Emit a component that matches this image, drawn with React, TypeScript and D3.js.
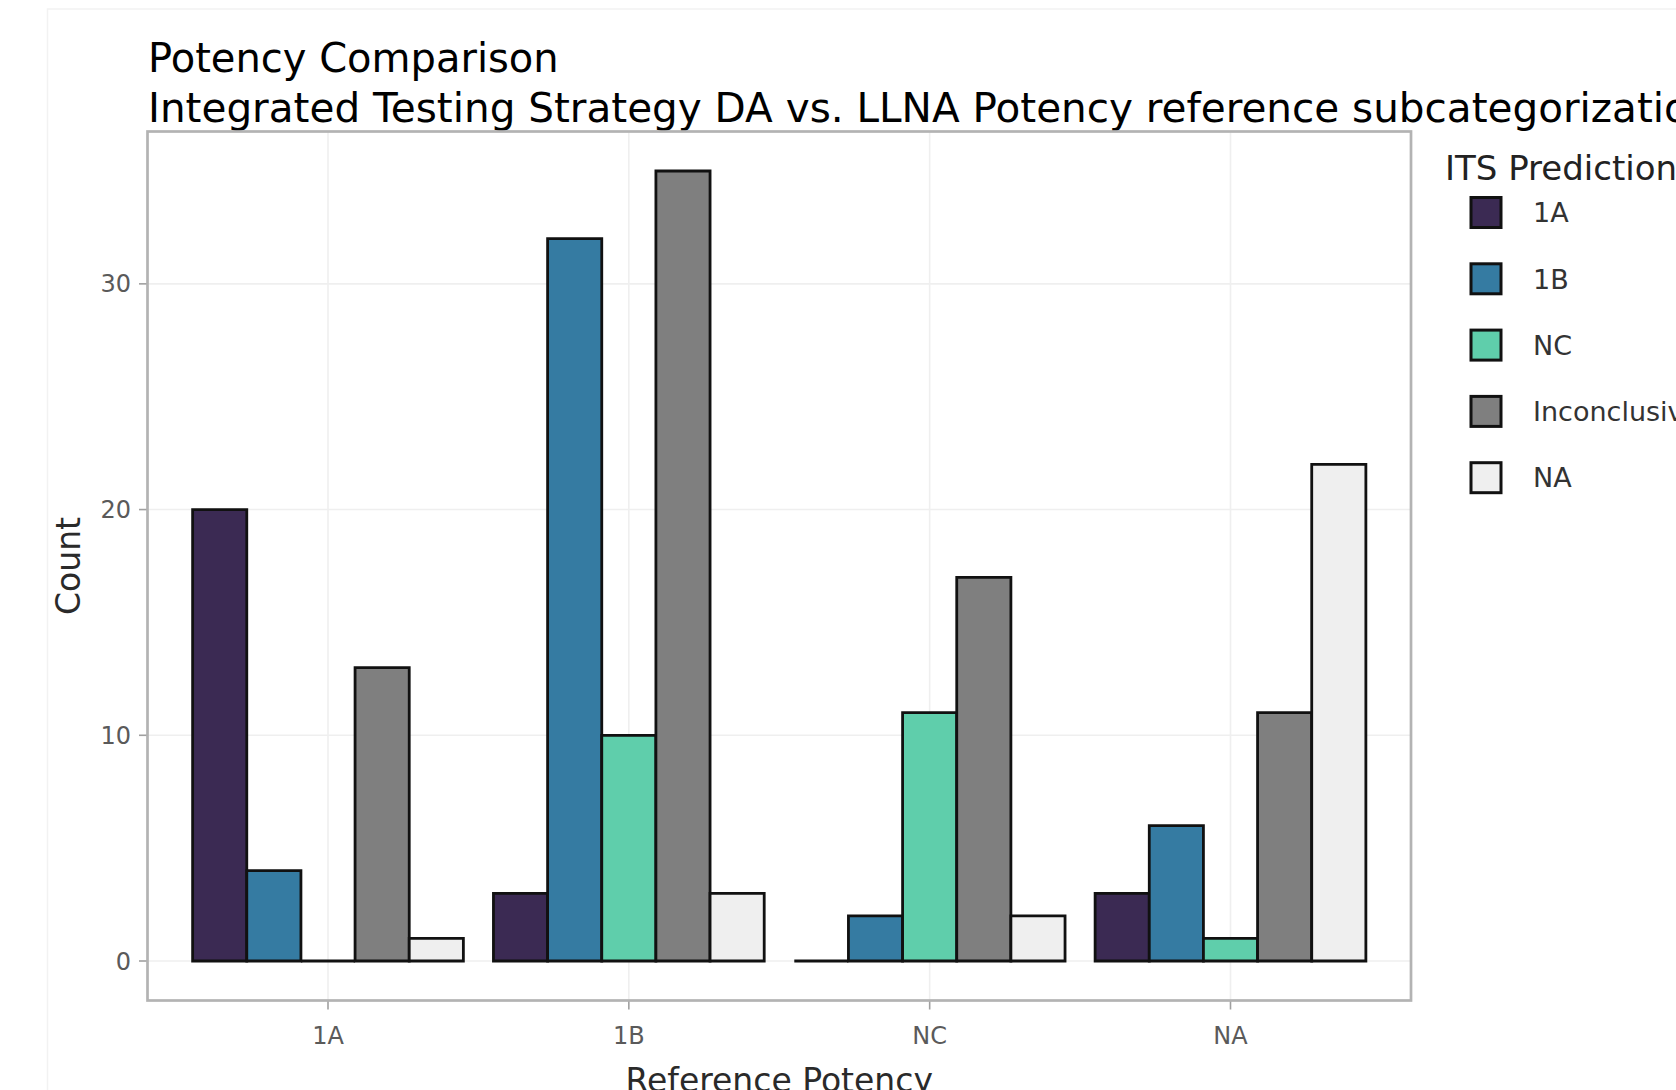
import React from "react";
import * as d3 from "d3";

const categories = ["1A", "1B", "NC", "NA"];
const series = ["1A", "1B", "NC", "Inconclusive", "NA"];
const colors = ["#3B2A53", "#357BA2", "#5FCEAB", "#7F7F7F", "#EFEFEF"];
// values[seriesIndex][categoryIndex]
const s1A = [20, 3, 0, 3];
const s1B = [4, 32, 2, 6];
const sNC = [0, 10, 11, 1];
const sInc = [13, 35, 17, 11];
const sNA = [1, 3, 2, 22];
const yTicks = [0, 10, 20, 30];

const values = [s1A, s1B, sNC, sInc, sNA];

const W = 1676;
const H = 1090;
const P = { left: 147.5, right: 1411, top: 131.5, bottom: 1000.5 };
const FONT = "'DejaVu Sans', Verdana, sans-serif";

export default function App() {
  const x = d3
    .scaleBand<string>()
    .domain(categories)
    .range([P.left, P.right])
    .paddingInner(0.1)
    .paddingOuter(0.15);
  const xs = d3.scaleBand<string>().domain(series).range([0, x.bandwidth()]);
  const y = d3.scaleLinear().domain([-1.75, 36.75]).range([P.bottom, P.top]);

  const bars: { key: string; d: string; fill: string }[] = [];
  categories.forEach((c, ci) => {
    series.forEach((s, si) => {
      const v = values[si][ci];
      const x0 = (x(c) as number) + (xs(s) as number);
      const w = xs.bandwidth();
      const y0 = y(0);
      const y1 = y(v);
      bars.push({
        key: c + "-" + s,
        d: `M${x0},${y0}H${x0 + w}V${y1}H${x0}Z`,
        fill: colors[si],
      });
    });
  });

  const cx = (c: string) => (x(c) as number) + x.bandwidth() / 2;

  return (
    <svg
      width={W}
      height={H}
      style={{ position: "absolute", left: 0, top: 0, background: "#fff" }}
      fontFamily={FONT}
    >
      <rect x={0} y={0} width={W} height={H} fill="#fff" />
      <rect x={47.5} y={9} width={W} height={H} fill="none" stroke="#F2F2F2" strokeWidth={1.5} />
      <text x={148} y={71.5} fontSize={40} fill="#000">
        Potency Comparison
      </text>
      <text x={148} y={122} fontSize={40.5} fill="#000">
        Integrated Testing Strategy DA vs. LLNA Potency reference subcategorization
      </text>

      {/* grid */}
      {yTicks.map((t) => (
        <line key={"gy" + t} x1={P.left} x2={P.right} y1={y(t)} y2={y(t)} stroke="#EFEFEF" strokeWidth={1.6} />
      ))}
      {categories.map((c) => (
        <line key={"gx" + c} x1={cx(c)} x2={cx(c)} y1={P.top} y2={P.bottom} stroke="#EFEFEF" strokeWidth={1.6} />
      ))}

      {/* bars */}
      {bars.map((b) => (
        <path key={b.key} d={b.d} fill={b.fill} stroke="#111" strokeWidth={2.8} strokeLinejoin="miter" />
      ))}

      {/* panel border */}
      <rect
        x={P.left}
        y={P.top}
        width={P.right - P.left}
        height={P.bottom - P.top}
        fill="none"
        stroke="#B3B3B3"
        strokeWidth={2.7}
      />

      {/* y axis */}
      {yTicks.map((t) => (
        <g key={"ty" + t}>
          <line x1={139} x2={P.left - 1} y1={y(t)} y2={y(t)} stroke="#A0A0A0" strokeWidth={1.6} />
          <text x={131} y={y(t)} dy="0.36em" textAnchor="end" fontSize={24} fill="#5A5A5A">
            {t}
          </text>
        </g>
      ))}
      {/* x axis */}
      {categories.map((c) => (
        <g key={"tx" + c}>
          <line x1={cx(c)} x2={cx(c)} y1={P.bottom + 1} y2={P.bottom + 9} stroke="#A0A0A0" strokeWidth={1.6} />
          <text x={cx(c)} y={1035} dy="0.36em" textAnchor="middle" fontSize={24} fill="#5A5A5A">
            {c}
          </text>
        </g>
      ))}

      <text
        transform={`translate(${80},${(P.top + P.bottom) / 2}) rotate(-90)`}
        textAnchor="middle"
        fontSize={33}
        fill="#2A2A2A"
      >
        Count
      </text>
      <text x={(P.left + P.right) / 2} y={1092} textAnchor="middle" fontSize={33} fill="#2A2A2A">
        Reference Potency
      </text>

      {/* legend */}
      <text x={1445} y={180} fontSize={34} fill="#222">
        ITS Prediction
      </text>
      {series.map((s, i) => {
        const yc = 212.5 + 66.3 * i;
        return (
          <g key={"lg" + s}>
            <rect x={1471} y={yc - 15} width={30} height={30} fill={colors[i]} stroke="#111" strokeWidth={3} />
            <text x={1533} y={yc} dy="0.36em" fontSize={27} fill="#333">
              {s}
            </text>
          </g>
        );
      })}
    </svg>
  );
}
